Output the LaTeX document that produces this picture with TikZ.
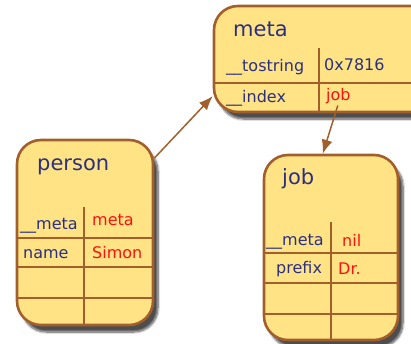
\documentclass[tikz,border=0pt]{standalone}
\usepackage{fontspec}
\setmainfont{DejaVu Sans}
\usepackage{tikz}
\usetikzlibrary{arrows.meta,shadows.blur,positioning}
\definecolor{boxfill}{HTML}{FFE385}
\definecolor{boxline}{HTML}{A25F2C}
\definecolor{keyblue}{HTML}{2B2F80}
\definecolor{valred}{HTML}{FF1010}

\begin{document}
\begin{tikzpicture}[x=1pt,y=-1pt,
	tbl/.style={draw=boxline,fill=boxfill,line width=2.6pt,rounded corners=24pt,inner sep=0pt,
		blur shadow={shadow xshift=5pt,shadow yshift=-7pt,shadow blur steps=8,shadow opacity=70}},
	rule/.style={draw=boxline,line width=1.8pt},
	title/.style={anchor=base west,inner sep=0pt,text=keyblue,font=\fontsize{21}{25}\selectfont},
	key/.style={anchor=base west,inner sep=0pt,text=keyblue,font=\fontsize{16}{19}\selectfont},
	val/.style={key,text=valred},
	link/.style={draw=boxline,line width=1.5pt,-{Latex[length=14pt,width=11pt]}}]
		\useasboundingbox (0,0) rectangle (411,343);
		\node[tbl,minimum width=226pt,minimum height=106pt] (meta) at (327,59) {};
		\node[tbl,minimum width=136pt,minimum height=185pt] (person) at (85,232.5) {};
		\node[tbl,minimum width=134pt,minimum height=185pt] (job) at (331,247.5) {};
		\draw[rule] (214,83) -- (440,83);
		\draw[rule] (319,48) -- (319,112);
		\draw[rule] (17,238) -- (153,238);
		\draw[rule] (17,267) -- (153,267);
		\draw[rule] (17,298) -- (153,298);
		\draw[rule] (84,207) -- (84,325);
		\draw[rule] (264,253) -- (398,253);
		\draw[rule] (264,283) -- (398,283);
		\draw[rule] (264,314) -- (398,314);
		\draw[rule] (331,222) -- (331,340);
		\node[title] (metatitle) at (233,36) {meta};
		\node[key] (tostr) at (226,71) {\_\_tostring};
		\node[key] (addr) at (324,70) {0x7816};
		\node[key] (idx) at (226,102) {\_\_index};
		\node[val] (metajob) at (326,100) {job};
		\node[title] (ptitle) at (37,170) {person};
		\node[key] (pmeta) at (20,229) {\_\_meta};
		\node[val] (pmetaval) at (92,225) {meta};
		\node[key] (pname) at (23,258) {name};
		\node[val] (pnameval) at (92,258) {Simon};
		\node[title] (jtitle) at (282,184) {job};
		\node[key] (jmeta) at (266,245) {\_\_meta};
		\node[val] (jmetaval) at (342,246) {nil};
		\node[key] (jprefix) at (276,273) {prefix};
		\node[val] (jprefixval) at (338,274) {Dr.};
		\draw[link] (person.47) -- (meta.198);
		\draw[link,shorten <=2pt] (metajob.south) -- (job.95);
\end{tikzpicture}
\end{document}
